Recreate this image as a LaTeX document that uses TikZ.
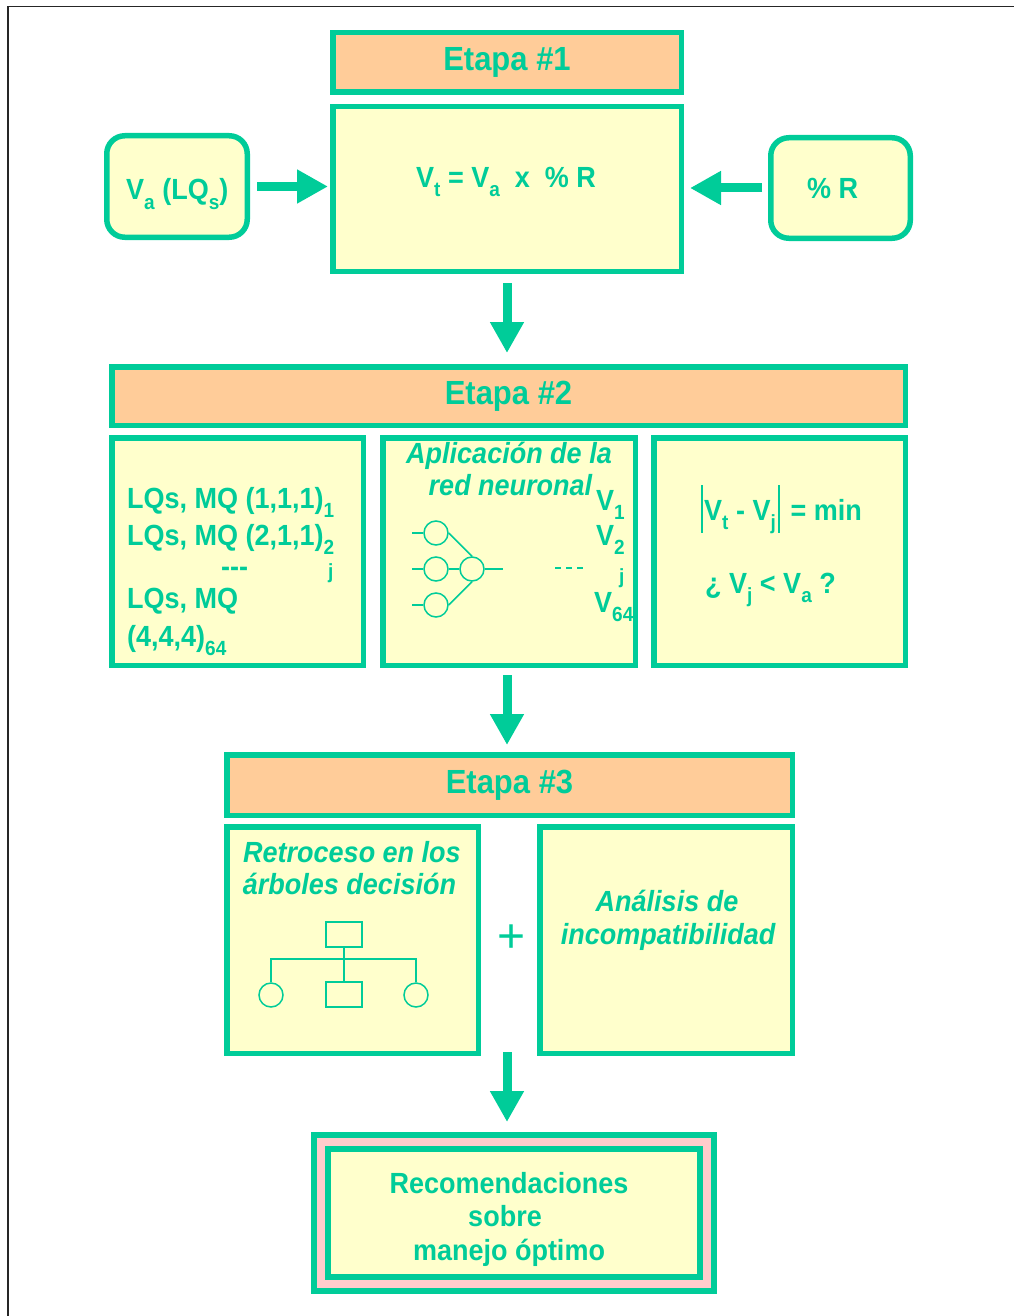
\documentclass[tikz,border=0pt]{standalone}
\usepackage{graphicx}
\usepackage{fontspec}
\setmainfont{Liberation Sans}
\usetikzlibrary{arrows.meta}
\definecolor{grn}{RGB}{0,204,153}
\definecolor{ylw}{RGB}{255,255,204}
\definecolor{org}{RGB}{255,204,153}
\definecolor{pnk}{RGB}{255,204,204}
\newcommand{\dn}[1]{\raisebox{-8.5pt}{\fontsize{19}{19}\selectfont #1}}
\newsavebox{\tboxsave}
\begin{document}
\begin{tikzpicture}[x=1pt,y=-1pt,
  stretch/.style={execute at begin node={\begin{lrbox}{\tboxsave}},
                  execute at end node={\end{lrbox}\scalebox{1}[1.08]{\usebox{\tboxsave}}}},
  box/.style={draw=grn, line width=5.5pt, fill=ylw, inner sep=0pt, outer sep=2.75pt},
  header/.style={box, fill=org, font=\fontsize{31}{36}\selectfont\bfseries, text=grn, stretch},
  rbox/.style={box, rounded corners=18pt},
  txt/.style={font=\fontsize{27}{33}\selectfont\bfseries, text=grn, inner sep=0pt, stretch},
  itxt/.style={font=\fontsize{27}{33}\selectfont\bfseries\itshape, text=grn, inner sep=0pt, stretch},
  subtxt/.style={font=\fontsize{19}{19}\selectfont\bfseries, text=grn, inner sep=0pt, stretch},
  bigarrow/.style={draw=grn, line width=9pt, -{Triangle[width=32pt,length=31pt]}},
  thinline/.style={draw=grn, line width=1.5pt},
  neuron/.style={circle, draw=grn, line width=1.5pt, minimum size=24pt, inner sep=0pt, outer sep=0.75pt},
  treebox/.style={rectangle, draw=grn, line width=1.5pt, minimum width=36pt, minimum height=25pt, inner sep=0pt, outer sep=0.75pt},
]
\useasboundingbox (0,0) rectangle (1013,1316);
% outer frame
\draw[line width=1.5pt, black!85] (8,1340) -- (8,6.7) -- (1040,6.7);

% ---- Stage 1
\node[header, minimum width=348.5pt, minimum height=59.5pt] (h1) at (507,62.5) {Etapa \#1};
\node[box, minimum width=348.5pt, minimum height=164.5pt] (b1) at (507,189) {};
\node[txt, anchor=base west] (f1) at (416,187) {V\dn{t} = V\dn{a}\ \ x\ \ \% R};
\node[rbox, minimum width=140.5pt, minimum height=101.5pt] (va) at (177,186.5) {};
\node[txt, anchor=base west] (vat) at (126,200) {V\dn{a} (LQ\dn{s})};
\node[rbox, minimum width=139.5pt, minimum height=100.5pt] (pr) at (840.5,188) {};
\node[txt, anchor=base west] (prt) at (807,198) {\% R};
\draw[bigarrow, shorten <=7pt, shorten >=2pt] (va.east) -- (va.east -| b1.west);
\draw[bigarrow, shorten <=6pt, shorten >=6pt] (pr.west) -- (pr.west -| b1.east);

% ---- Stage 2
\node[header, minimum width=793.5pt, minimum height=58.5pt] (h2) at (508.5,396) {Etapa \#2};
\draw[bigarrow, shorten <=9pt, shorten >=11pt] (b1.south) -- (b1.south |- h2.north);
\node[box, minimum width=251.5pt, minimum height=227.5pt] (bA) at (237.5,551.5) {};
\node[box, minimum width=252.5pt, minimum height=227.5pt] (bB) at (509,551.5) {};
\node[box, minimum width=251.5pt, minimum height=227.5pt] (bC) at (779.5,551.5) {};

% box A
\node[txt, anchor=base west] (a1) at (127,508.3) {LQs, MQ (1,1,1)\dn{1}};
\node[txt, anchor=base west] (a2) at (127,545.7) {LQs, MQ (2,1,1)\dn{2}};
\node[txt, anchor=base west] (a3) at (221,576) {-{}-{}-};
\node[subtxt, anchor=base west] (a3j) at (328,578) {j};
\node[txt, anchor=base west] (a4) at (127,608.3) {LQs, MQ};
\node[txt, anchor=base west] (a5) at (127,646) {(4,4,4)\dn{64}};

% box B
\node[itxt, anchor=base] (bt1) at (509,463) {Aplicación de la};
\node[itxt, anchor=base] (bt2) at (510.5,495) {red neuronal};
\node[txt, anchor=base west] (v1) at (596,510) {V\dn{1}};
\node[txt, anchor=base west] (v2) at (596,545) {V\dn{2}};
\node[subtxt, anchor=base west] (vj) at (619,583) {j};
\node[txt, anchor=base west] (v64) at (594,612) {V\dn{64}};
\node[neuron] (n1) at (436,533) {};
\node[neuron] (n2) at (436,569) {};
\node[neuron] (n3) at (436,605) {};
\node[neuron] (n4) at (472,569) {};
\coordinate (i1) at (412,533);
\coordinate (i2) at (412,569);
\coordinate (i3) at (412,605);
\coordinate (o1) at (503,569);
\draw[thinline] (i1) -- (n1.west);
\draw[thinline] (i2) -- (n2.west);
\draw[thinline] (i3) -- (n3.west);
\draw[thinline] (n1.east) -- (n4.north);
\draw[thinline] (n2.east) -- (n4.west);
\draw[thinline] (n3.east) -- (n4.south);
\draw[thinline] (n4.east) -- (o1);
\coordinate (d1) at (555,568);
\coordinate (d2) at (583,568);
\draw[thinline, dash pattern=on 6pt off 5pt] (d1) -- (d2);

% box C
\node[txt, anchor=base west] (c1) at (704,520) {V\dn{t} - V\dn{j}};
\node[txt, anchor=base west] (c1b) at (790.5,520) {= min};
\coordinate (bar1a) at (702,485);
\coordinate (bar1b) at (702,533);
\coordinate (bar2a) at (779,485);
\coordinate (bar2b) at (779,533);
\draw[thinline] (bar1a) -- (bar1b);
\draw[thinline] (bar2a) -- (bar2b);
\node[txt, anchor=base west] (c2) at (705,593) {¿ V\dn{j} < V\dn{a} ?};

% ---- Stage 3
\node[header, minimum width=565.5pt, minimum height=60.5pt] (h3) at (509.5,785) {Etapa \#3};
\draw[bigarrow, shorten <=7pt, shorten >=7pt] ([xshift=-2pt]bB.south) -- ([xshift=-2pt]bB.south |- h3.north);
\node[box, minimum width=251.5pt, minimum height=226.5pt] (bL) at (352.5,940) {};
\node[box, minimum width=252.5pt, minimum height=226.5pt] (bR) at (666,940) {};
\node[itxt, anchor=base] (l1) at (352,862) {Retroceso en los};
\node[itxt, anchor=base] (l2) at (349.5,894) {árboles decisión};
\node[treebox] (t1) at (344,934.5) {};
\node[treebox] (t2) at (344,994.5) {};
\node[neuron] (t3) at (271,995) {};
\node[neuron] (t4) at (416,995) {};
\coordinate (tj) at (344,959);
\coordinate (tl) at (271,959);
\coordinate (tr) at (416,959);
\draw[thinline] (t1.south) -- (t2.north);
\draw[thinline] (t3.north) -- (tl) -- (tr) -- (t4.north);
\node[itxt, anchor=base] (r1) at (667,911) {Análisis de};
\node[itxt, anchor=base] (r2) at (668,944) {incompatibilidad};
\node[font=\fontsize{48}{48}\selectfont, text=grn, inner sep=0pt] (plus) at (511.5,939) {+};

% ---- Final
\node[draw=grn, double=pnk, double distance=8pt, line width=6pt, fill=ylw,
      minimum width=386pt, minimum height=142pt, inner sep=0pt, outer sep=10pt] (fin) at (514,1213) {};
\coordinate (g3) at (507,1052);
\draw[bigarrow, shorten >=10pt] (g3) -- (g3 |- fin.north);
\node[txt, anchor=base] (e1) at (509,1193) {Recomendaciones};
\node[txt, anchor=base] (e2) at (505,1226.7) {sobre};
\node[txt, anchor=base] (e3) at (509,1260) {manejo óptimo};
\end{tikzpicture}
\end{document}
